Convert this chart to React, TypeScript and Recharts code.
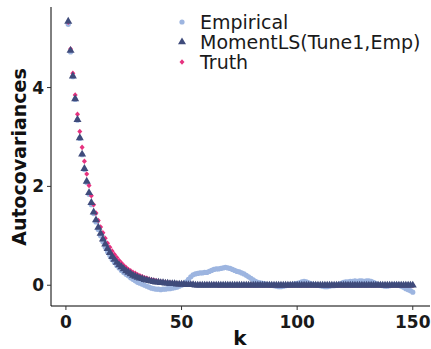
import { ScatterChart, Scatter, XAxis, YAxis } from "recharts";

const lags = Array.from({ length: 150 }, (_, i) => i + 1);

const empirical = [
  5.28, 4.72, 4.22, 3.76, 3.34, 2.97, 2.64, 2.34, 2.08, 1.84,
  1.63, 1.45, 1.28, 1.13, 1.0, 0.88, 0.77, 0.68, 0.6, 0.52,
  0.46, 0.4, 0.35, 0.3, 0.26, 0.22, 0.19, 0.15, 0.12, 0.09,
  0.06, 0.04, 0.02, 0.0, -0.02, -0.04, -0.06, -0.07, -0.08, -0.08,
  -0.09, -0.08, -0.08, -0.07, -0.07, -0.06, -0.05, -0.04, -0.02, 0.0,
  0.03, 0.07, 0.12, 0.17, 0.21, 0.23, 0.24, 0.25, 0.25, 0.26,
  0.26, 0.28, 0.3, 0.32, 0.33, 0.33, 0.34, 0.35, 0.36, 0.35,
  0.34, 0.32, 0.3, 0.28, 0.27, 0.25, 0.23, 0.2, 0.17, 0.14,
  0.11, 0.08, 0.06, 0.05, 0.04, 0.03, 0.02, 0.01, 0.0, -0.01,
  -0.02, -0.03, -0.03, -0.02, -0.01, 0.0, 0.01, 0.02, 0.03, 0.04,
  0.05, 0.07, 0.08, 0.07, 0.05, 0.03, 0.02, 0.01, 0.0, -0.01,
  -0.02, -0.03, -0.03, -0.02, -0.01, -0.01, 0.0, 0.02, 0.04, 0.06,
  0.07, 0.07, 0.08, 0.08, 0.09, 0.08, 0.09, 0.09, 0.08, 0.09,
  0.09, 0.08, 0.06, 0.04, 0.02, 0.01, -0.01, -0.02, -0.02, -0.01,
  0.0, 0.01, 0.01, 0.0, -0.02, -0.04, -0.07, -0.09, -0.11, -0.14,
];

const momentLS = [
  5.34, 4.75, 4.23, 3.77, 3.35, 2.98, 2.65, 2.36, 2.1, 1.87,
  1.67, 1.48, 1.32, 1.17, 1.05, 0.93, 0.83, 0.74, 0.66, 0.58,
  0.52, 0.46, 0.41, 0.37, 0.33, 0.29, 0.26, 0.23, 0.2, 0.18,
  0.16, 0.14, 0.13, 0.11, 0.1, 0.09, 0.08, 0.07, 0.06, 0.06,
  0.05, 0.05, 0.04, 0.04, 0.03, 0.03, 0.03, 0.02, 0.02, 0.02,
  0.02, 0.01, 0.01, 0.01, 0.01, 0, 0, 0, 0, 0,
  0, 0, 0, 0, 0, 0, 0, 0, 0, 0,
  0, 0, 0, 0, 0, 0, 0, 0, 0, 0,
  0, 0, 0, 0, 0, 0, 0, 0, 0, 0,
  0, 0, 0, 0, 0, 0, 0, 0, 0, 0,
  0, 0, 0, 0, 0, 0, 0, 0, 0, 0,
  0, 0, 0, 0, 0, 0, 0, 0, 0, 0,
  0, 0, 0, 0, 0, 0, 0, 0, 0, 0,
  0, 0, 0, 0, 0, 0, 0, 0, 0, 0,
  0, 0, 0, 0, 0, 0, 0, 0, 0, 0,
];

const truth = [
  5.32, 4.78, 4.29, 3.85, 3.46, 3.11, 2.79, 2.51, 2.25, 2.02,
  1.81, 1.63, 1.46, 1.31, 1.18, 1.06, 0.95, 0.85, 0.77, 0.69,
  0.62, 0.56, 0.5, 0.45, 0.4, 0.36, 0.32, 0.29, 0.26, 0.24,
  0.21, 0.19, 0.17, 0.15, 0.14, 0.12, 0.11, 0.1, 0.09, 0.08,
  0.07, 0.06, 0.06, 0.05, 0.05, 0.04, 0.04, 0.03, 0.03, 0.03,
  0.02, 0.02, 0.02, 0.02, 0.02, 0.01, 0.01, 0.01, 0.01, 0.01,
  0.01, 0.01, 0.01, 0.01, 0.01, 0, 0, 0, 0, 0,
  0, 0, 0, 0, 0, 0, 0, 0, 0, 0,
  0, 0, 0, 0, 0, 0, 0, 0, 0, 0,
  0, 0, 0, 0, 0, 0, 0, 0, 0, 0,
  0, 0, 0, 0, 0, 0, 0, 0, 0, 0,
  0, 0, 0, 0, 0, 0, 0, 0, 0, 0,
  0, 0, 0, 0, 0, 0, 0, 0, 0, 0,
  0, 0, 0, 0, 0, 0, 0, 0, 0, 0,
  0, 0, 0, 0, 0, 0, 0, 0, 0, 0,
];

const xTicks = [0, 50, 100, 150];
const yTicks = [0, 2, 4];
const seriesNames = ["Empirical", "MomentLS(Tune1,Emp)", "Truth"];

const FONT = "'DejaVu Sans', sans-serif";
const EMP_COLOR = "#9db5e0";
const MLS_COLOR = "#3f4b7b";
const TRUTH_COLOR = "#e6327f";

const toPoints = (vals: number[]) => lags.map((k, i) => ({ k, v: vals[i] }));

const CircleDot = (p: any) => <circle cx={p.cx} cy={p.cy} r={2.6} fill={EMP_COLOR} />;

// triangle centred on its centroid, like R's pch 17
const TriangleDot = (p: any) => (
  <polygon
    points={`${p.cx},${p.cy - 4.6} ${p.cx - 4},${p.cy + 2.3} ${p.cx + 4},${p.cy + 2.3}`}
    fill={MLS_COLOR}
  />
);

const DiamondDot = (p: any) => (
  <polygon
    points={`${p.cx},${p.cy - 2.8} ${p.cx + 2.5},${p.cy} ${p.cx},${p.cy + 2.8} ${p.cx - 2.5},${p.cy}`}
    fill={TRUTH_COLOR}
  />
);

const YLabel = () => (
  <text
    x={19}
    y={157}
    transform="rotate(-90 19 157)"
    textAnchor="middle"
    dominantBaseline="central"
    fontFamily={FONT}
    fontWeight="bold"
    fontSize={19}
    fill="#111"
  >
    Autocovariances
  </text>
);

const XLabel = () => (
  <text x={240} y={345} textAnchor="middle" fontFamily={FONT} fontWeight="bold" fontSize={20} fill="#111">
    k
  </text>
);

const tickStyle = { fill: "#1a1a1a", fontSize: 17, fontWeight: "bold", fontFamily: FONT };

export default function App() {
  const shapes = [CircleDot, TriangleDot, DiamondDot];
  return (
    <div style={{ position: "absolute", left: 0, top: 0, width: 431, height: 349, background: "#fff" }}>
      <ScatterChart width={431} height={349} margin={{ top: 7, right: 1, bottom: 0, left: 0 }}>
        <XAxis
          type="number"
          dataKey="k"
          domain={[-6.45, 157.45]}
          ticks={xTicks}
          allowDataOverflow
          height={43}
          tickSize={4}
          tickMargin={6}
          tick={tickStyle}
          axisLine={{ stroke: "#000", strokeWidth: 1 }}
          tickLine={{ stroke: "#333" }}
          label={<XLabel />}
        />
        <YAxis
          type="number"
          dataKey="v"
          domain={[-0.42, 5.63]}
          ticks={yTicks}
          allowDataOverflow
          width={51}
          tickSize={4}
          tickMargin={3}
          tick={tickStyle}
          axisLine={{ stroke: "#000", strokeWidth: 1 }}
          tickLine={{ stroke: "#333" }}
          label={<YLabel />}
        />
        <Scatter data={toPoints(empirical)} shape={CircleDot} isAnimationActive={false} />
        <Scatter data={toPoints(truth)} shape={DiamondDot} isAnimationActive={false} />
        <Scatter data={toPoints(momentLS)} shape={TriangleDot} isAnimationActive={false} />
      </ScatterChart>
      <svg width={260} height={80} style={{ position: "absolute", left: 172, top: 0 }}>
        {seriesNames.map((name, i) => {
          const Dot = shapes[i];
          const cy = 22 + i * 20;
          return (
            <g key={name}>
              <Dot cx={10} cy={cy} />
              <text x={28} y={cy} dominantBaseline="central" fontFamily={FONT} fontSize={19} fill="#1a1a1a">
                {name}
              </text>
            </g>
          );
        })}
      </svg>
    </div>
  );
}
